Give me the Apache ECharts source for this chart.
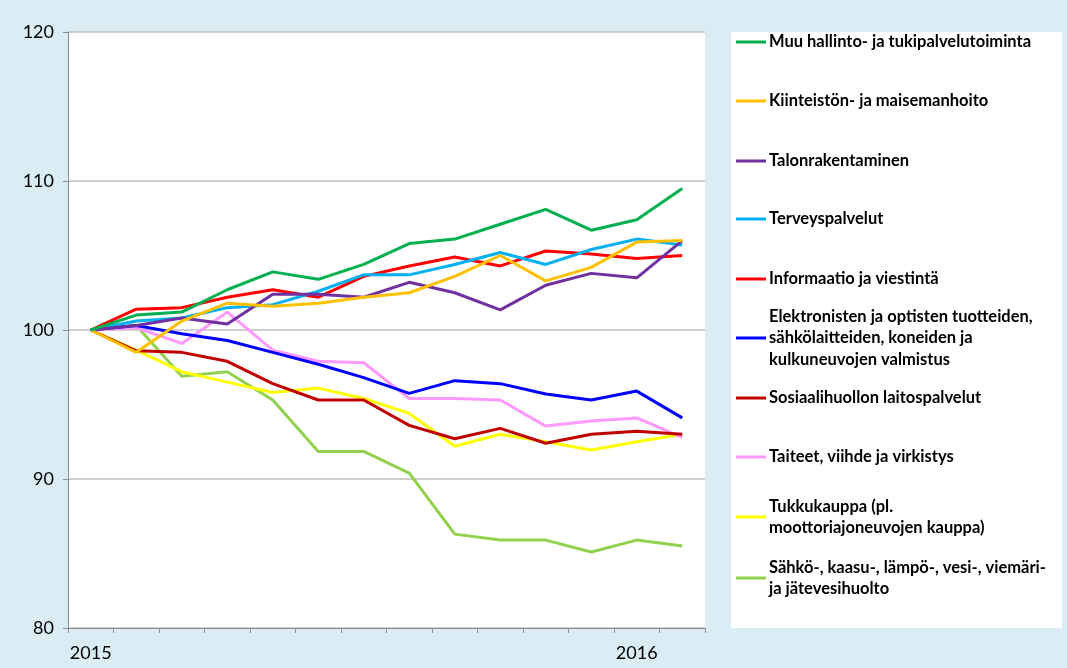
<!DOCTYPE html>
<html>
<head>
    <meta http-equiv=Content-Type content="text/html; charset=utf-8">
    <title>Toimialat 2015-2016</title>
    <script type="text/javascript" src="https://cdn.jsdelivr.net/npm/echarts@6/dist/echarts.min.js"></script>
    <style>
        html, body { margin: 0; padding: 0; background: #daedf4; }
        #chartmain { width: 1067px; height: 668px; }
    </style>
</head>
<body>
<div id="chartmain"></div>

<script type="text/javascript">
    // kuukaudet tammikuu 2015 - helmikuu 2016, vain vuosien kohdalla teksti
    var months = ['2015', '', '', '', '', '', '', '', '', '', '', '', '2016', ''];

    var muuHallinto   = [100, 101.0, 101.2, 102.7, 103.9, 103.4, 104.4, 105.8, 106.1, 107.1, 108.1, 106.7, 107.4, 109.5];
    var kiinteisto    = [100, 98.5, 100.6, 101.8, 101.6, 101.8, 102.2, 102.5, 103.6, 105.0, 103.3, 104.2, 105.9, 106.0];
    var talonrak      = [100, 100.3, 100.8, 100.4, 102.4, 102.4, 102.2, 103.2, 102.5, 101.35, 103.0, 103.8, 103.5, 106.0];
    var terveys       = [100, 100.6, 100.8, 101.5, 101.7, 102.6, 103.7, 103.7, 104.4, 105.2, 104.4, 105.4, 106.1, 105.7];
    var informaatio   = [100, 101.4, 101.5, 102.2, 102.7, 102.2, 103.6, 104.3, 104.9, 104.3, 105.3, 105.1, 104.8, 105.0];
    var elektroniikka = [100, 100.3, 99.75, 99.3, 98.5, 97.7, 96.8, 95.75, 96.6, 96.4, 95.7, 95.3, 95.9, 94.1];
    var sosiaali      = [100, 98.6, 98.5, 97.9, 96.4, 95.3, 95.3, 93.6, 92.7, 93.4, 92.4, 93.0, 93.2, 93.0];
    var taiteet       = [100, 100.15, 99.1, 101.2, 98.65, 97.9, 97.8, 95.4, 95.4, 95.3, 93.55, 93.9, 94.1, 92.8];
    var tukkukauppa   = [100, 98.65, 97.2, 96.5, 95.8, 96.1, 95.4, 94.4, 92.2, 93.0, 92.5, 91.95, 92.5, 93.0];
    var sahko         = [100, 100.3, 96.9, 97.2, 95.3, 91.85, 91.85, 90.4, 86.3, 85.9, 85.9, 85.1, 85.9, 85.5];

    var yTicks = [80, 90, 100, 110, 120];

    // nimi, data, väri, legendan keskikohta (y), rivien määrä
    var sarjat = [
        ['Muu hallinto- ja tukipalvelutoiminta', muuHallinto, '#00b050', 42, 1],
        ['Kiinteistön- ja maisemanhoito', kiinteisto, '#ffc000', 101, 1],
        ['Talonrakentaminen', talonrak, '#7030a0', 161, 1],
        ['Terveyspalvelut', terveys, '#00b0f0', 219, 1],
        ['Informaatio ja viestintä', informaatio, '#ff0000', 279, 1],
        ['Elektronisten ja optisten tuotteiden,\nsähkölaitteiden, koneiden ja\nkulkuneuvojen valmistus', elektroniikka, '#0000ff', 338, 3],
        ['Sosiaalihuollon laitospalvelut', sosiaali, '#c00000', 398, 1],
        ['Taiteet, viihde ja virkistys', taiteet, '#ff99ff', 457, 1],
        ['Tukkukauppa (pl.\nmoottoriajoneuvojen kauppa)', tukkukauppa, '#ffff00', 517, 2],
        ['Sähkö-, kaasu-, lämpö-, vesi-, viemäri-\nja jätevesihuolto', sahko, '#92d050', 578, 2]
    ];

    var rivi = 21.5;
    var series = [];
    var legends = [];
    for (var i = 0; i < sarjat.length; i++) {
        var s = sarjat[i];
        series.push({
            name: s[0],
            type: 'line',
            data: s[1],
            symbol: 'none',
            smooth: false,
            color: s[2],
            lineStyle: {width: 3, color: s[2]},
            z: 20 - i
        });
        legends.push({
            data: [s[0]],
            left: 736,
            top: s[3] - (2 * s[4] - 1) * rivi / 2,
            orient: 'vertical',
            padding: 0,
            itemWidth: 30,
            itemHeight: 3,
            itemGap: 0,
            icon: 'rect',
            selectedMode: false,
            textStyle: {
                fontFamily: 'Lato',
                fontWeight: 'bold',
                fontSize: 16.5,
                color: '#000',
                lineHeight: rivi,
                padding: [(s[4] - 1) * rivi, 0, 0, -2]
            }
        });
    }

    var myChart = echarts.init(document.getElementById('chartmain'));
    var option = {
        backgroundColor: '#daedf4',
        animation: false,
        graphic: [
            {type: 'rect', shape: {x: 68, y: 32, width: 637, height: 596}, style: {fill: '#ffffff'}, z: -10},
            {type: 'rect', shape: {x: 731, y: 32, width: 331, height: 596}, style: {fill: '#ffffff'}, z: -10}
        ],
        legend: legends,
        grid: {left: 68, right: 362, top: 32, bottom: 40, containLabel: false},
        xAxis: {
            type: 'category',
            data: months,
            boundaryGap: true,
            axisLine: {lineStyle: {color: '#8c8c8c', width: 1}},
            axisTick: {show: true, length: 5, interval: 0, lineStyle: {color: '#8c8c8c'}},
            axisLabel: {interval: 0, margin: 16, fontFamily: 'Lato', fontSize: 18, color: '#000'}
        },
        yAxis: {
            type: 'value',
            min: yTicks[0],
            max: yTicks[yTicks.length - 1],
            interval: 10,
            axisLine: {show: true, lineStyle: {color: '#8c8c8c', width: 1}},
            axisTick: {show: true, length: 5, lineStyle: {color: '#8c8c8c'}},
            axisLabel: {margin: 14, fontFamily: 'Lato', fontSize: 18, color: '#000'},
            splitLine: {lineStyle: {color: '#bfbfbf', width: 1.5}}
        },
        series: series
    };
    myChart.setOption(option);
</script>
</body>
</html>
